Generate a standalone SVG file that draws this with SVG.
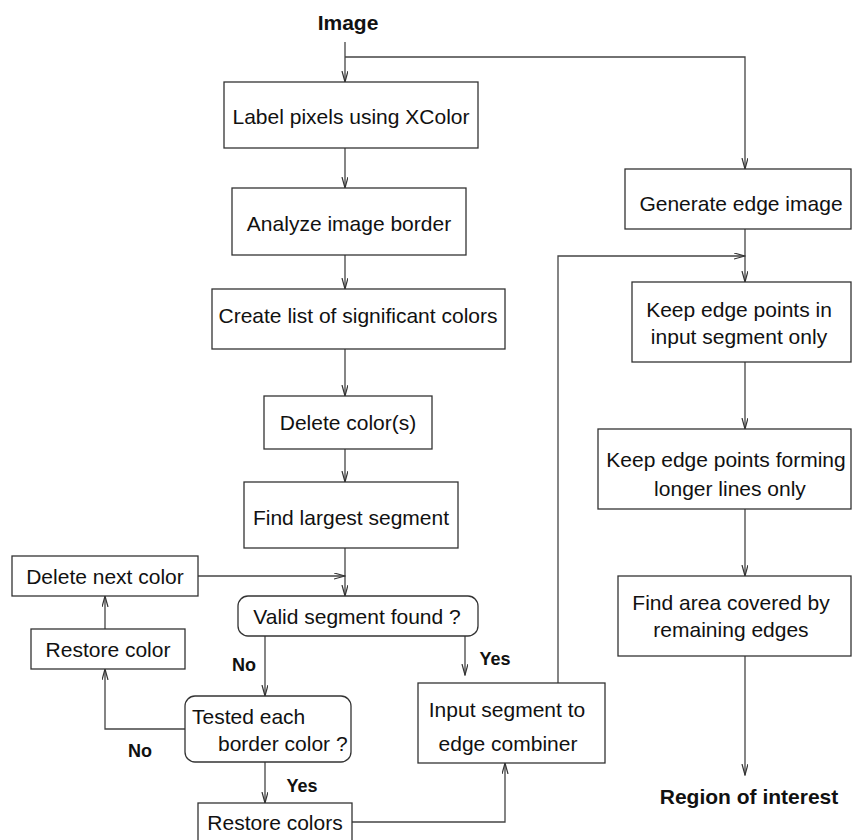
<svg xmlns="http://www.w3.org/2000/svg" width="852" height="840" viewBox="0 0 852 840">
<style>
.box{fill:#fff;stroke:#333;stroke-width:1.3}
.t{font-family:"Liberation Sans",Arial,sans-serif;font-size:21px;fill:#111;text-anchor:middle}
.ts{text-anchor:start}
.b{font-family:"Liberation Sans",Arial,sans-serif;font-weight:bold;fill:#111;text-anchor:middle}
.c{fill:none;stroke:#444;stroke-width:1.3}
</style>
<defs>
<marker id="arr" markerWidth="12" markerHeight="8" refX="11" refY="3" orient="auto" markerUnits="userSpaceOnUse">
<path d="M0,0 L11,3 L0,6" fill="none" stroke="#333" stroke-width="1.2"/>
</marker>
</defs>
<rect width="852" height="840" fill="#fff"/>
<g id="connectors">
<path class="c" d="M345,42 V82" marker-end="url(#arr)"/>
<path class="c" d="M345,57 H745 V169" marker-end="url(#arr)"/>
<path class="c" d="M345,148 V188" marker-end="url(#arr)"/>
<path class="c" d="M345,255 V289" marker-end="url(#arr)"/>
<path class="c" d="M345,349 V396" marker-end="url(#arr)"/>
<path class="c" d="M345,449 V482" marker-end="url(#arr)"/>
<path class="c" d="M345,548 V596" marker-end="url(#arr)"/>
<path class="c" d="M198,576 H345" marker-end="url(#arr)"/>
<path class="c" d="M265,636 V696" marker-end="url(#arr)"/>
<path class="c" d="M465,636 V675" marker-end="url(#arr)"/>
<path class="c" d="M185,729 H105 V669" marker-end="url(#arr)"/>
<path class="c" d="M105,629 V596" marker-end="url(#arr)"/>
<path class="c" d="M265,762 V803" marker-end="url(#arr)"/>
<path class="c" d="M352,822 H505 V763" marker-end="url(#arr)"/>
<path class="c" d="M558,683 V256 H745" marker-end="url(#arr)"/>
<path class="c" d="M745,229 V282" marker-end="url(#arr)"/>
<path class="c" d="M745,362 V429" marker-end="url(#arr)"/>
<path class="c" d="M745,509 V576" marker-end="url(#arr)"/>
<path class="c" d="M745,656 V775" marker-end="url(#arr)"/>
</g>
<g id="image"><text class="b" x="348" y="29.5" font-size="21">Image</text></g>
<g id="label"><rect class="box" x="224" y="82" width="254" height="66"/><text class="t" x="351" y="123.5">Label pixels using XColor</text></g>
<g id="analyze"><rect class="box" x="232" y="188" width="234" height="67"/><text class="t" x="349" y="230.5">Analyze image border</text></g>
<g id="create"><rect class="box" x="212" y="289" width="293" height="60"/><text class="t" x="358" y="323">Create list of significant colors</text></g>
<g id="delete"><rect class="box" x="264" y="396" width="168" height="53"/><text class="t" x="348" y="430">Delete color(s)</text></g>
<g id="find"><rect class="box" x="244" y="482" width="214" height="66"/><text class="t" x="351" y="524.5">Find largest segment</text></g>
<g id="deletenext"><rect class="box" x="12" y="556" width="186" height="40"/><text class="t" x="105" y="583.5">Delete next color</text></g>
<g id="valid"><rect class="box" x="238" y="596" width="240" height="40" rx="10"/><text class="t" x="357" y="623.5">Valid segment found ?</text></g>
<g id="restorecolor"><rect class="box" x="31" y="629" width="154" height="40"/><text class="t" x="108" y="656.5">Restore color</text></g>
<g id="tested"><rect class="box" x="185" y="696" width="166" height="66" rx="10"/><text class="t ts" x="192" y="723.5">Tested each</text><text class="t ts" x="218" y="750.5">border color ?</text></g>
<g id="restorecolors"><rect class="box" x="198" y="803" width="154" height="50"/><text class="t" x="275" y="829.5">Restore colors</text></g>
<g id="input"><rect class="box" x="418" y="683" width="187" height="80"/><text class="t" x="507" y="716.5">Input segment to</text><text class="t" x="508" y="750.5">edge combiner</text></g>
<g id="generate"><rect class="box" x="625" y="169" width="226" height="60"/><text class="t" x="741" y="210.5">Generate edge image</text></g>
<g id="keep1"><rect class="box" x="632" y="282" width="219" height="80"/><text class="t" x="739" y="316.5">Keep edge points in</text><text class="t" x="739" y="343.5">input segment only</text></g>
<g id="keep2"><rect class="box" x="598" y="429" width="253" height="80"/><text class="t" x="726" y="466.5">Keep edge points forming</text><text class="t" x="730" y="495.5">longer lines only</text></g>
<g id="findarea"><rect class="box" x="618" y="576" width="233" height="80"/><text class="t" x="731" y="609.5">Find area covered by</text><text class="t" x="731" y="636.5">remaining edges</text></g>
<g id="region"><text class="b" x="749" y="803.5" font-size="21">Region of interest</text></g>
<g id="labels">
<text class="b" x="244" y="670.5" font-size="18">No</text>
<text class="b" x="140" y="756.5" font-size="18">No</text>
<text class="b" x="302" y="791.5" font-size="18">Yes</text>
<text class="b" x="495" y="664.5" font-size="18">Yes</text>
</g>
</svg>
